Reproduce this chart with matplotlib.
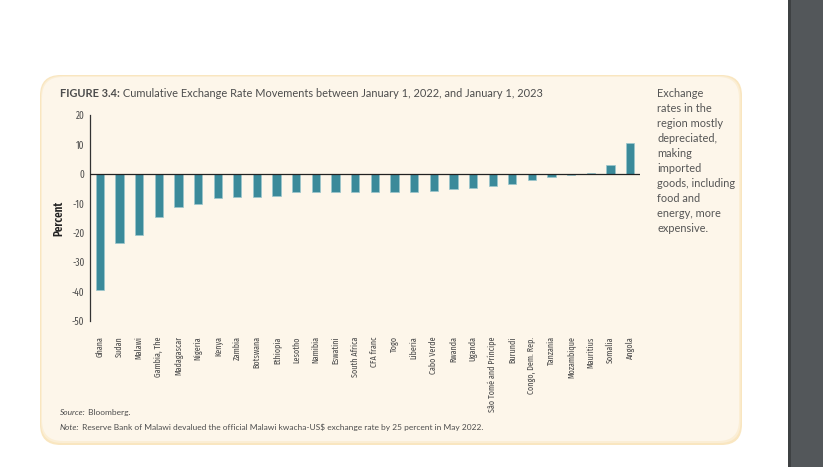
import numpy as np
import matplotlib.pyplot as plt
from matplotlib.patches import FancyBboxPatch, Rectangle

countries = ["Ghana", "Sudan", "Malawi", "Gambia, The", "Madagascar", "Nigeria", "Kenya",
             "Zambia", "Botswana", "Ethiopia", "Lesotho", "Namibia", "Eswatini",
             "South Africa", "CFA franc", "Togo", "Liberia", "Cabo Verde", "Rwanda",
             "Uganda", "São Tomé and Príncipe", "Burundi", "Congo, Dem. Rep.", "Tanzania",
             "Mozambique", "Mauritius", "Somalia", "Angola"]
change = [-39.5, -23.6, -20.7, -14.7, -11.3, -10.3, -8.3,
          -7.8, -7.7, -7.5, -6.1, -6.1, -6.1,
          -6.1, -6.1, -6.1, -6.1, -5.9, -5.3,
          -4.9, -4.2, -3.6, -2.0, -1.2,
          -0.3, 0.3, 3.0, 10.4]
yticks = [20, 10, 0, -10, -20, -30, -40, -50]

W, H = 823, 467
narrow = ['Fira Sans Extra Condensed', 'DejaVu Sans']
body = ['Lato', 'DejaVu Sans']
grey = '#4d4d4d'

fig = plt.figure(figsize=(W / 100, H / 100), dpi=100)
fig.patch.set_facecolor('white')

def fx(px):
    return px / W

def fy(py):
    return 1 - py / H

# dark side bar
fig.patches.append(Rectangle((fx(790), 0), fx(33), 1, transform=fig.transFigure,
                             facecolor='#53575a', edgecolor='none', zorder=-10))
fig.patches.append(Rectangle((fx(788), 0), fx(3), 1, transform=fig.transFigure,
                             facecolor='#3e4143', edgecolor='none', zorder=-10))

# cream box with soft edge
for (x0, y0, x1, y1), col in [((40, 75, 742, 445), '#f9e6c0'),
                              ((41, 76, 740.5, 443), '#fbeed5'),
                              ((42, 77, 739, 441), '#fdf6ea')]:
    box = FancyBboxPatch((fx(x0), fy(y1)), fx(x1 - x0), fy(y0) - fy(y1),
                         boxstyle='round,pad=0,rounding_size=0.025',
                         transform=fig.transFigure, facecolor=col,
                         edgecolor='none', zorder=-10, mutation_aspect=W / H)
    fig.patches.append(box)

ax = fig.add_axes([fx(90), fy(321), fx(550), fy(115) - fy(321)])
ax.set_facecolor('none')
x = np.arange(len(countries))
ax.bar(x, change, width=0.42, color='#3b8a9a', edgecolor='#9cc7cd', linewidth=0.5, zorder=2)
ax.axhline(0, color='#222222', linewidth=0.9, zorder=3)
ax.set_xlim(-0.5, len(countries) - 0.5)
ax.set_ylim(-50, 20)
ax.set_yticks(yticks)
ax.set_yticklabels([str(t) for t in yticks], family=narrow, fontweight='normal',
                   fontsize=7.2, color=grey)
ax.set_xticks(x)
ax.set_xticklabels(countries, rotation=90, family=narrow, fontweight='normal', fontsize=6.3,
                   color=grey, ha='center', va='top')
ax.tick_params(axis='x', length=0, pad=11)
ax.tick_params(axis='y', length=0, pad=4)
for s in ['top', 'right', 'bottom']:
    ax.spines[s].set_visible(False)
ax.spines['left'].set_color('#333333')
ax.spines['left'].set_linewidth(0.9)
ax.set_ylabel('Percent', family=narrow, fontsize=8.5, fontweight='semibold', color='#222222',
              labelpad=5)

# title
t1 = fig.text(fx(60), fy(97), 'FIGURE 3.4:', family=body, fontsize=7.9, fontweight='bold',
              color=grey, va='baseline')
fig.add_artist(plt.Annotation(
    ' Cumulative Exchange Rate Movements between January 1, 2022, and January 1, 2023',
    xy=(1, 0), xycoords=t1, va='bottom', ha='left', family=body, fontsize=7.9,
    color=grey, annotation_clip=False))

# side note
fig.text(fx(657), fy(88), 'Exchange\nrates in the\nregion mostly\ndepreciated,\nmaking\nimported\n'
         'goods, including\nfood and\nenergy, more\nexpensive.',
         family=body, fontsize=7.9, color='#555555', va='top', ha='left', linespacing=1.45)

# source and note
s1 = fig.text(fx(60), fy(415), 'Source:', family=body, fontsize=6, style='italic',
              color=grey, va='baseline')
fig.add_artist(plt.Annotation(' Bloomberg.', xy=(1, 0), xycoords=s1, va='bottom', ha='left',
                              family=body, fontsize=6, color=grey, annotation_clip=False))
n1 = fig.text(fx(60), fy(430), 'Note:', family=body, fontsize=6, style='italic',
              color=grey, va='baseline')
fig.add_artist(plt.Annotation(
    ' Reserve Bank of Malawi devalued the official Malawi kwacha-US$ exchange rate by 25 percent in May 2022.',
    xy=(1, 0), xycoords=n1, va='bottom', ha='left', family=body,
    fontsize=6, color=grey, annotation_clip=False))

fig.savefig('out.png', dpi=100)
